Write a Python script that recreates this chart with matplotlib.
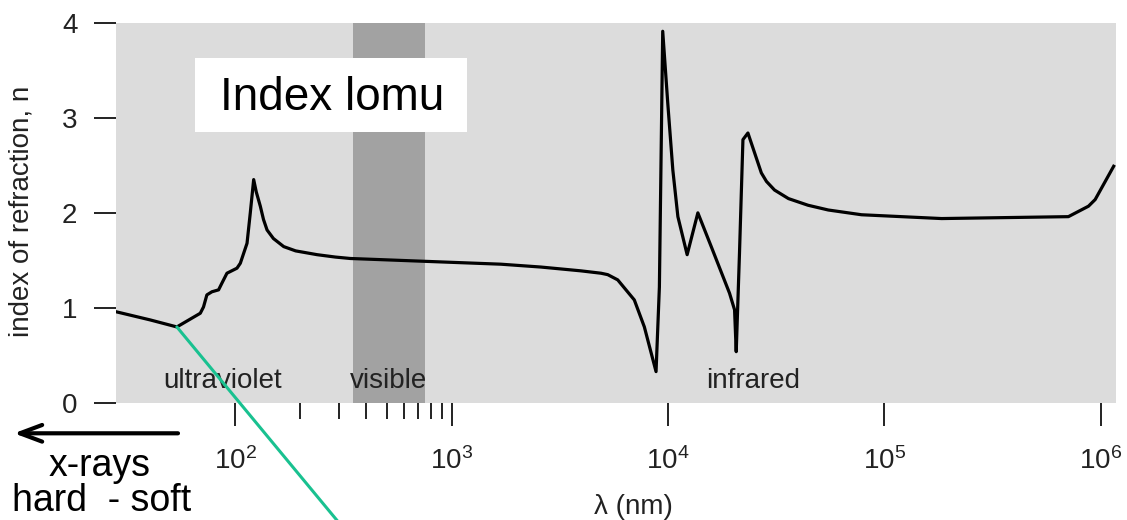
import numpy as np
import matplotlib.pyplot as plt
from matplotlib.patches import Rectangle
from matplotlib.ticker import FixedLocator, NullFormatter

plt.rcParams['font.family'] = ['Liberation Sans', 'DejaVu Sans']
plt.rcParams['mathtext.fontset'] = 'custom'
plt.rcParams['mathtext.rm'] = 'Liberation Sans'
plt.rcParams['mathtext.it'] = 'Liberation Sans'

# refractive index n vs wavelength (nm)
wavelength_nm = [28.1, 40.4, 53.7, 68.9, 71.3, 73.9, 78.0, 83.7, 86.7, 91.5,
                 101.8, 105.5, 113.3, 117.3, 121.6, 125.0, 130.5, 135.0, 140.2,
                 150.0, 167.4, 190.0, 238.9, 290.0,
                 340, 580, 988, 1687, 2582, 3954, 4898, 5262, 5852, 6982, 7770,
                 8799, 9117, 9446, 9970, 10520, 11100, 12250, 13730, 15830,
                 19230, 20290, 20650, 21380, 22180, 23390, 25120, 26980, 28500,
                 31040, 36000, 44340, 55000, 78340, 183700, 707900, 876600,
                 941400, 1146000]
n_index = [0.96, 0.874, 0.80, 0.944, 1.01, 1.137, 1.17, 1.19, 1.26, 1.365,
           1.418, 1.47, 1.68, 2.0, 2.35, 2.22, 2.07, 1.93, 1.82,
           1.73, 1.645, 1.60, 1.56, 1.535,
           1.52, 1.50, 1.48, 1.46, 1.43, 1.39, 1.365, 1.35, 1.295, 1.084, 0.80,
           0.33, 1.22, 3.91, 3.15, 2.45, 1.96, 1.56, 2.0, 1.645,
           1.155, 0.98, 0.54, 1.575, 2.77, 2.84, 2.63, 2.42, 2.33,
           2.24, 2.15, 2.08, 2.03, 1.98, 1.94, 1.96, 2.07,
           2.14, 2.49]

visible_band = (350, 750)
major_ticks = [1e2, 1e3, 1e4, 1e5, 1e6]
major_labels = ['$10^2$', '$10^3$', '$10^4$', '$10^5$', '$10^6$']
minor_ticks = [200, 300, 400, 500, 600, 700, 800, 900]
region_names = ['ultraviolet', 'visible', 'infrared']
region_x = [87, 511, 24660]

fig = plt.figure(figsize=(11.27, 5.20), dpi=100)
ax = fig.add_axes([116 / 1127, 1 - 403 / 520, 1000 / 1127, 380.3 / 520])
ax.set_facecolor('#dcdcdc')
for s in ax.spines.values():
    s.set_visible(False)

ax.axvspan(*visible_band, color='#a2a2a2', lw=0, zorder=1)
ax.plot(wavelength_nm, n_index, color='black', lw=2.3, zorder=3,
        solid_joinstyle='round')

ax.set_xscale('log')
ax.set_xlim(28.1, 10 ** 6.07)
ax.set_ylim(0, 4)

ax.xaxis.set_major_locator(FixedLocator(major_ticks))
ax.set_xticklabels(major_labels)
ax.xaxis.set_minor_locator(FixedLocator(minor_ticks))
ax.xaxis.set_minor_formatter(NullFormatter())
ax.set_yticks([0, 1, 2, 3, 4])

ax.tick_params(axis='x', which='major', length=16.5, width=1.4, color='#222222',
               pad=15, labelsize=20, labelcolor='#222222')
ax.tick_params(axis='x', which='minor', length=11.5, width=1.4, color='#222222')
ax.tick_params(axis='y', length=15.8, width=1.4, color='#222222', pad=12,
               labelsize=20, labelcolor='#222222')

ax.set_xlabel('λ (nm)', fontsize=20, color='#222222')
ax.xaxis.set_label_coords(0.517, -0.238)
ax.set_ylabel('index of refraction, n', fontsize=20, color='#222222')
ax.yaxis.set_label_coords(-0.081, 0.503)

for name, xv in zip(region_names, region_x):
    ax.text(xv, 0.155, name, ha='center', va='baseline', fontsize=20,
            color='#222222', zorder=4)

# title box
ax.add_patch(Rectangle((0.079, 0.7134), 0.2717, 0.193, transform=ax.transAxes,
                       facecolor='white', edgecolor='none', zorder=5))
ax.text(0.2157, 0.7705, 'Index lomu', transform=ax.transAxes, ha='center',
        va='baseline', fontsize=33, color='black', zorder=6)

# pointer from the curve minimum
i_min = int(np.argmin(n_index[:5]))
ax.annotate('', xy=(wavelength_nm[i_min], n_index[i_min]), xycoords='data',
            xytext=(340, -4), textcoords='figure pixels',
            arrowprops=dict(arrowstyle='-', color='#19c190', lw=2.2,
                            shrinkA=0, shrinkB=0),
            annotation_clip=False, zorder=7)

# x-ray arrow and labels
ax.annotate('', xy=(14, 86.7), xytext=(178, 86.7), xycoords='figure pixels',
            textcoords='figure pixels',
            arrowprops=dict(arrowstyle='->, head_length=1.6, head_width=0.6',
                            color='black', lw=3, shrinkA=0, shrinkB=0),
            annotation_clip=False)
fig.text(99.5 / 1127, 1 - 476 / 520, 'x-rays', ha='center', va='baseline',
         fontsize=27)
fig.text(102 / 1127, 1 / 520, 'hard  - soft', ha='center', va='bottom',
         fontsize=27)

fig.savefig('out.png', dpi=100)
